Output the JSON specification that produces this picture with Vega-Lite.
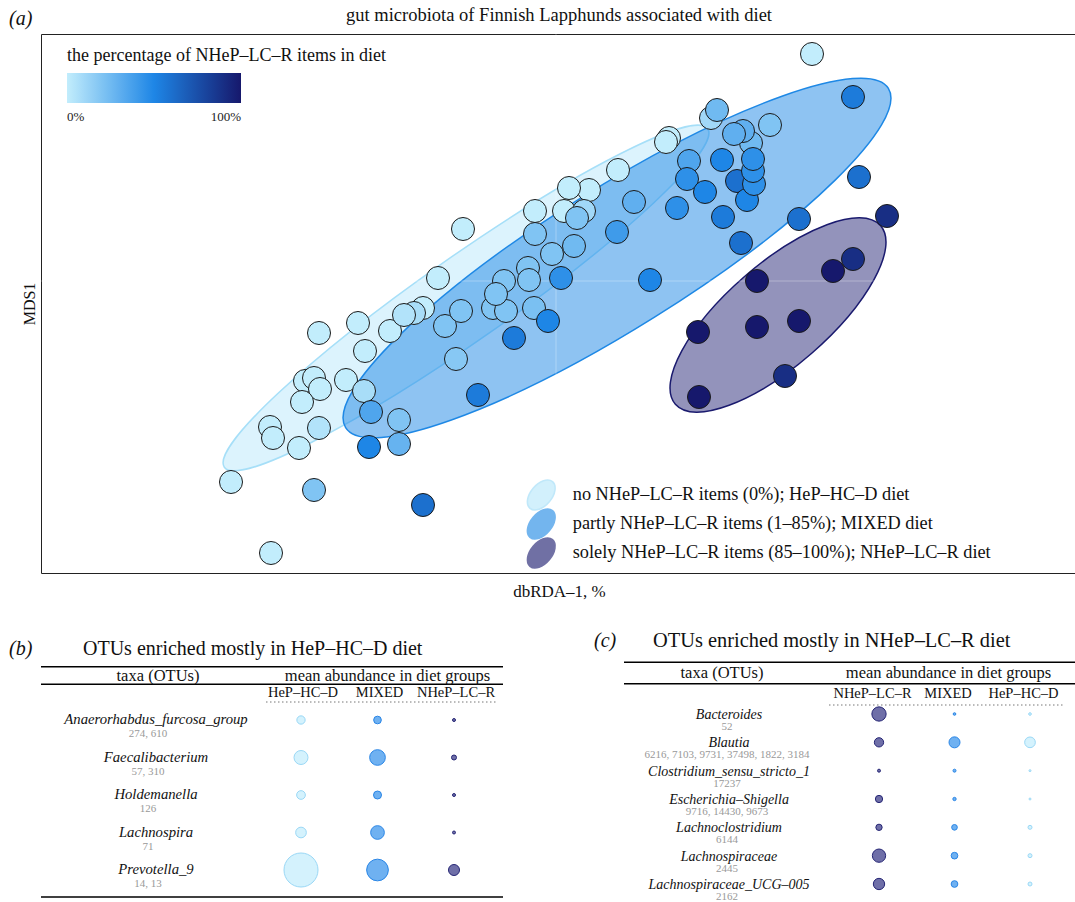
{
  "$schema": "https://vega.github.io/schema/vega-lite/v6.json",
  "padding": {"left": 8, "top": 5, "right": 0, "bottom": 0},
  "bounds": "flush",
  "spacing": 54,
  "config": {
    "font": "Liberation Serif",
    "view": {"stroke": null},
    "text": {"font": "Liberation Serif", "color": "#111"},
    "title": {"font": "Liberation Serif", "fontWeight": "normal", "color": "#111"},
    "legend": {"labelFont": "Liberation Serif", "titleFont": "Liberation Serif"}
  },
  "datasets": {
    "samples": [
      {"x":2.56,"y":2.27,"pct":0},{"x":-3.25,"y":-2.01,"pct":0},{"x":-2.85,"y":-2.72,"pct":0},{"x":-2.37,"y":-0.52,"pct":0},
      {"x":-1.98,"y":-0.42,"pct":0},{"x":-1.66,"y":-0.50,"pct":0},{"x":-1.91,"y":-0.70,"pct":0},{"x":-2.51,"y":-1.00,"pct":0},
      {"x":-2.42,"y":-0.97,"pct":0},{"x":-2.36,"y":-1.08,"pct":0},{"x":-2.54,"y":-1.21,"pct":0},{"x":-2.10,"y":-0.99,"pct":0},
      {"x":-2.86,"y":-1.46,"pct":0},{"x":-2.83,"y":-1.57,"pct":0},{"x":-2.37,"y":-1.47,"pct":5},{"x":-2.57,"y":-1.67,"pct":0},
      {"x":-0.93,"y":0.52,"pct":0},{"x":-1.18,"y":0.03,"pct":0},{"x":-0.21,"y":0.70,"pct":0},{"x":-1.33,"y":-0.27,"pct":0},
      {"x":-1.42,"y":-0.32,"pct":8},{"x":-1.52,"y":-0.34,"pct":5},{"x":0.62,"y":1.11,"pct":0},{"x":0.33,"y":0.91,"pct":0},
      {"x":0.13,"y":0.93,"pct":0},{"x":0.08,"y":0.70,"pct":0},{"x":0.28,"y":0.70,"pct":10},{"x":1.13,"y":1.43,"pct":0},
      {"x":1.10,"y":1.39,"pct":0},{"x":1.55,"y":1.63,"pct":10},{"x":-1.92,"y":-1.10,"pct":8},{"x":-2.42,"y":-2.09,"pct":20},
      {"x":-1.11,"y":-0.45,"pct":20},{"x":-0.95,"y":-0.30,"pct":20},{"x":-0.63,"y":-0.27,"pct":20},{"x":-0.50,"y":-0.30,"pct":20},
      {"x":-0.22,"y":-0.27,"pct":22},{"x":-1.00,"y":-0.78,"pct":18},{"x":-1.57,"y":-1.39,"pct":20},{"x":-1.57,"y":-1.63,"pct":28},
      {"x":-0.21,"y":0.47,"pct":20},{"x":-0.04,"y":0.27,"pct":20},{"x":-0.28,"y":0.13,"pct":20},{"x":-0.27,"y":0.01,"pct":20},
      {"x":-0.52,"y":0.00,"pct":20},{"x":-0.60,"y":-0.13,"pct":20},{"x":0.21,"y":0.63,"pct":20},{"x":0.18,"y":0.35,"pct":25},
      {"x":0.78,"y":0.79,"pct":30},{"x":2.14,"y":1.56,"pct":20},{"x":1.61,"y":1.71,"pct":25},{"x":1.95,"y":1.38,"pct":25},
      {"x":1.87,"y":1.50,"pct":30},{"x":1.78,"y":1.47,"pct":30},{"x":1.33,"y":1.20,"pct":35},{"x":-0.08,"y":-0.40,"pct":50},
      {"x":-0.42,"y":-0.57,"pct":55},{"x":-0.78,"y":-1.14,"pct":55},{"x":-1.85,"y":-1.31,"pct":35},{"x":-1.87,"y":-1.66,"pct":50},
      {"x":-1.33,"y":-2.24,"pct":60},{"x":0.05,"y":0.03,"pct":45},{"x":0.61,"y":0.49,"pct":40},{"x":0.94,"y":0.01,"pct":50},
      {"x":1.21,"y":0.73,"pct":45},{"x":1.31,"y":1.02,"pct":45},{"x":1.49,"y":0.89,"pct":50},{"x":1.66,"y":1.21,"pct":50},
      {"x":1.67,"y":0.64,"pct":55},{"x":1.81,"y":1.00,"pct":60},{"x":1.91,"y":0.81,"pct":50},{"x":1.98,"y":0.97,"pct":45},
      {"x":1.97,"y":1.10,"pct":45},{"x":1.97,"y":1.22,"pct":45},{"x":1.85,"y":0.38,"pct":60},{"x":2.43,"y":0.62,"pct":60},
      {"x":2.97,"y":1.84,"pct":55},{"x":3.03,"y":1.04,"pct":60},{"x":3.31,"y":0.65,"pct":90},{"x":2.97,"y":0.22,"pct":90},
      {"x":2.77,"y":0.10,"pct":100},{"x":2.01,"y":0.00,"pct":100},{"x":1.42,"y":-0.51,"pct":100},{"x":2.01,"y":-0.46,"pct":100},
      {"x":2.43,"y":-0.40,"pct":100},{"x":2.29,"y":-0.95,"pct":90},{"x":1.43,"y":-1.16,"pct":100}
    ],
    "ellipses": [
      {"group":"HeP–HC–D","diet":"no NHeP–LC–R items (0%); HeP–HC–D diet","x":-0.90,"y":-0.17},
      {"group":"MIXED","diet":"partly NHeP–LC–R items (1–85%); MIXED diet","x":0.61,"y":0.23},
      {"group":"NHeP–LC–R","diet":"solely NHeP–LC–R items (85–100%); NHeP–LC–R diet","x":2.22,"y":-0.34}
    ],
    "b_head": [
      {"pos":"head","col":"taxa","label":"taxa (OTUs)"},
      {"pos":"head","col":"MIXED","label":"mean abundance in diet groups"}
    ],
    "b_cols": [
      {"pos":"colhead","col":"HeP–HC–D"},{"pos":"colhead","col":"MIXED"},{"pos":"colhead","col":"NHeP–LC–R"}
    ],
    "b_rules": [{"pos":"rule1"},{"pos":"rule2"}],
    "b_taxa": [
      {"taxon":"Anaerorhabdus_furcosa_group","otus":"274, 610"},
      {"taxon":"Faecalibacterium","otus":"57, 310"},
      {"taxon":"Holdemanella","otus":"126"},
      {"taxon":"Lachnospira","otus":"71"},
      {"taxon":"Prevotella_9","otus":"14, 13"}
    ],
    "b_abund": [
      {"taxon":"Anaerorhabdus_furcosa_group","group":"HeP–HC–D","abundance":0.69},
      {"taxon":"Anaerorhabdus_furcosa_group","group":"MIXED","abundance":0.59},
      {"taxon":"Anaerorhabdus_furcosa_group","group":"NHeP–LC–R","abundance":0.09},
      {"taxon":"Faecalibacterium","group":"HeP–HC–D","abundance":1.96},
      {"taxon":"Faecalibacterium","group":"MIXED","abundance":2.46},
      {"taxon":"Faecalibacterium","group":"NHeP–LC–R","abundance":0.25},
      {"taxon":"Holdemanella","group":"HeP–HC–D","abundance":0.76},
      {"taxon":"Holdemanella","group":"MIXED","abundance":0.64},
      {"taxon":"Holdemanella","group":"NHeP–LC–R","abundance":0.09},
      {"taxon":"Lachnospira","group":"HeP–HC–D","abundance":1.14},
      {"taxon":"Lachnospira","group":"MIXED","abundance":1.88},
      {"taxon":"Lachnospira","group":"NHeP–LC–R","abundance":0.09},
      {"taxon":"Prevotella_9","group":"HeP–HC–D","abundance":11.56},
      {"taxon":"Prevotella_9","group":"MIXED","abundance":4.71},
      {"taxon":"Prevotella_9","group":"NHeP–LC–R","abundance":1.21}
    ],
    "c_taxa": [
      {"taxon":"Bacteroides","otus":"52"},
      {"taxon":"Blautia","otus":"6216, 7103, 9731, 37498, 1822, 3184"},
      {"taxon":"Clostridium_sensu_stricto_1","otus":"17237"},
      {"taxon":"Escherichia–Shigella","otus":"9716, 14430, 9673"},
      {"taxon":"Lachnoclostridium","otus":"6144"},
      {"taxon":"Lachnospiraceae","otus":"2445"},
      {"taxon":"Lachnospiraceae_UCG–005","otus":"2162"}
    ],
    "c_abund": [
      {"taxon":"Bacteroides","group":"NHeP–LC–R","abundance":2.04},
      {"taxon":"Bacteroides","group":"MIXED","abundance":0.07},
      {"taxon":"Bacteroides","group":"HeP–HC–D","abundance":0.07},
      {"taxon":"Blautia","group":"NHeP–LC–R","abundance":0.86},
      {"taxon":"Blautia","group":"MIXED","abundance":1.21},
      {"taxon":"Blautia","group":"HeP–HC–D","abundance":1.14},
      {"taxon":"Clostridium_sensu_stricto_1","group":"NHeP–LC–R","abundance":0.09},
      {"taxon":"Clostridium_sensu_stricto_1","group":"MIXED","abundance":0.09},
      {"taxon":"Clostridium_sensu_stricto_1","group":"HeP–HC–D","abundance":0.04},
      {"taxon":"Escherichia–Shigella","group":"NHeP–LC–R","abundance":0.53},
      {"taxon":"Escherichia–Shigella","group":"MIXED","abundance":0.11},
      {"taxon":"Escherichia–Shigella","group":"HeP–HC–D","abundance":0.04},
      {"taxon":"Lachnoclostridium","group":"NHeP–LC–R","abundance":0.40},
      {"taxon":"Lachnoclostridium","group":"MIXED","abundance":0.32},
      {"taxon":"Lachnoclostridium","group":"HeP–HC–D","abundance":0.16},
      {"taxon":"Lachnospiraceae","group":"NHeP–LC–R","abundance":1.77},
      {"taxon":"Lachnospiraceae","group":"MIXED","abundance":0.45},
      {"taxon":"Lachnospiraceae","group":"HeP–HC–D","abundance":0.16},
      {"taxon":"Lachnospiraceae_UCG–005","group":"NHeP–LC–R","abundance":1.28},
      {"taxon":"Lachnospiraceae_UCG–005","group":"MIXED","abundance":0.45},
      {"taxon":"Lachnospiraceae_UCG–005","group":"HeP–HC–D","abundance":0.16}
    ]
  },
  "resolve": {
    "scale": {"fill": "independent", "stroke": "independent", "size": "independent", "x": "independent", "y": "independent"},
    "legend": {"fill": "independent", "stroke": "independent", "size": "independent"}
  },
  "vconcat": [
    {
      "width": 1036,
      "height": 539,
      "view": {"stroke": "#222", "strokeWidth": 1},
      "title": {"text": "gut microbiota of Finnish Lapphunds associated with diet", "fontSize": 18.5, "anchor": "middle", "offset": -15},
      "resolve": {"scale": {"fill": "independent", "stroke": "independent"}, "legend": {"fill": "independent", "stroke": "independent"}},
      "layer": [
        {
          "data": {"name": "ellipses"},
          "encoding": {
            "x": {"field": "x", "type": "quantitative", "scale": {"domain": [-5.15, 5.21], "nice": false, "zero": false},
                  "axis": {"title": "dbRDA–1, %", "labels": false, "ticks": false, "domain": false, "grid": false, "titleFontSize": 17, "titleFontWeight": "normal", "titleFont": "Liberation Serif", "titleColor": "#111", "titlePadding": 10}},
            "y": {"field": "y", "type": "quantitative", "scale": {"domain": [-2.92, 2.47], "nice": false, "zero": false},
                  "axis": {"title": "MDS1", "labels": false, "ticks": false, "domain": false, "grid": false, "titleFontSize": 16, "titleFontWeight": "normal", "titleFont": "Liberation Serif", "titleColor": "#111", "titlePadding": 4}}
          },
          "resolve": {"scale": {"fill": "independent", "stroke": "independent"}, "legend": {"fill": "independent", "stroke": "independent"}},
          "layer": [
            {"transform": [{"filter": {"field": "group", "equal": "HeP–HC–D"}}],
             "mark": {"type": "point", "filled": true, "opacity": 1, "fillOpacity": 0.55, "strokeWidth": 1.5, "strokeOpacity": 1, "size": 348100, "angle": 325,
                      "shape": "M -1 0 C -1 -0.0786 -0.5523 -0.1424 0 -0.1424 C 0.5523 -0.1424 1 -0.0786 1 0 C 1 0.0786 0.5523 0.1424 0 0.1424 C -0.5523 0.1424 -1 0.0786 -1 0 Z"},
             "encoding": {
               "fill": {"field": "diet", "type": "nominal", "scale": {"domain": ["no NHeP–LC–R items (0%); HeP–HC–D diet"], "range": ["#bfeafb"]},
                        "legend": {"title": null, "orient": "none", "legendX": 481.75, "legendY": 442.5, "padding": 0,
                                   "symbolType": "M 0.643 -0.766 C 0.899 -0.551 0.818 -0.034 0.463 0.389 C 0.108 0.812 -0.387 0.981 -0.643 0.766 C -0.899 0.551 -0.818 0.034 -0.463 -0.389 C -0.108 -0.812 0.387 -0.981 0.643 -0.766 Z",
                                   "symbolSize": 1225, "symbolStrokeWidth": 1.5, "symbolOpacity": 0.7, "labelFontSize": 18.3, "labelColor": "#111", "labelOffset": 13, "labelLimit": 700}},
               "stroke": {"field": "diet", "type": "nominal", "scale": {"domain": ["no NHeP–LC–R items (0%); HeP–HC–D diet"], "range": ["#a6dff8"]},
                        "legend": {"title": null, "orient": "none", "legendX": 481.75, "legendY": 442.5, "padding": 0,
                                   "symbolType": "M 0.643 -0.766 C 0.899 -0.551 0.818 -0.034 0.463 0.389 C 0.108 0.812 -0.387 0.981 -0.643 0.766 C -0.899 0.551 -0.818 0.034 -0.463 -0.389 C -0.108 -0.812 0.387 -0.981 0.643 -0.766 Z",
                                   "symbolSize": 1225, "symbolStrokeWidth": 1.5, "symbolOpacity": 0.7, "labelFontSize": 18.3, "labelColor": "#111", "labelOffset": 13, "labelLimit": 700}}
             }},
            {"transform": [{"filter": {"field": "group", "equal": "MIXED"}}],
             "mark": {"type": "point", "filled": true, "opacity": 1, "fillOpacity": 0.5, "strokeWidth": 1.5, "strokeOpacity": 1, "size": 409600, "angle": 328,
                      "shape": "M -1 0 C -1 -0.121 -0.5523 -0.219 0 -0.219 C 0.5523 -0.219 1 -0.121 1 0 C 1 0.121 0.5523 0.219 0 0.219 C -0.5523 0.219 -1 0.121 -1 0 Z"},
             "encoding": {
               "fill": {"field": "diet", "type": "nominal", "scale": {"domain": ["partly NHeP–LC–R items (1–85%); MIXED diet"], "range": ["#1e88e5"]},
                        "legend": {"title": null, "orient": "none", "legendX": 481.75, "legendY": 471.5, "padding": 0,
                                   "symbolType": "M 0.643 -0.766 C 0.899 -0.551 0.818 -0.034 0.463 0.389 C 0.108 0.812 -0.387 0.981 -0.643 0.766 C -0.899 0.551 -0.818 0.034 -0.463 -0.389 C -0.108 -0.812 0.387 -0.981 0.643 -0.766 Z",
                                   "symbolSize": 1225, "symbolStrokeWidth": 1.5, "symbolOpacity": 0.62, "labelFontSize": 18.3, "labelColor": "#111", "labelOffset": 13, "labelLimit": 700}},
               "stroke": {"field": "diet", "type": "nominal", "scale": {"domain": ["partly NHeP–LC–R items (1–85%); MIXED diet"], "range": ["#1e88e5"]},
                        "legend": {"title": null, "orient": "none", "legendX": 481.75, "legendY": 471.5, "padding": 0,
                                   "symbolType": "M 0.643 -0.766 C 0.899 -0.551 0.818 -0.034 0.463 0.389 C 0.108 0.812 -0.387 0.981 -0.643 0.766 C -0.899 0.551 -0.818 0.034 -0.463 -0.389 C -0.108 -0.812 0.387 -0.981 0.643 -0.766 Z",
                                   "symbolSize": 1225, "symbolStrokeWidth": 1.5, "symbolOpacity": 0.62, "labelFontSize": 18.3, "labelColor": "#111", "labelOffset": 13, "labelLimit": 700}}
             }},
            {"transform": [{"filter": {"field": "group", "equal": "NHeP–LC–R"}}],
             "mark": {"type": "point", "filled": true, "opacity": 1, "fillOpacity": 0.47, "strokeWidth": 1.5, "strokeOpacity": 1, "size": 73984, "angle": 319,
                      "shape": "M -1 0 C -1 -0.2071 -0.5523 -0.375 0 -0.375 C 0.5523 -0.375 1 -0.2071 1 0 C 1 0.2071 0.5523 0.375 0 0.375 C -0.5523 0.375 -1 0.2071 -1 0 Z"},
             "encoding": {
               "fill": {"field": "diet", "type": "nominal", "scale": {"domain": ["solely NHeP–LC–R items (85–100%); NHeP–LC–R diet"], "range": ["#1a1a6e"]},
                        "legend": {"title": null, "orient": "none", "legendX": 481.75, "legendY": 500.5, "padding": 0,
                                   "symbolType": "M 0.643 -0.766 C 0.899 -0.551 0.818 -0.034 0.463 0.389 C 0.108 0.812 -0.387 0.981 -0.643 0.766 C -0.899 0.551 -0.818 0.034 -0.463 -0.389 C -0.108 -0.812 0.387 -0.981 0.643 -0.766 Z",
                                   "symbolSize": 1225, "symbolStrokeWidth": 1.5, "symbolOpacity": 0.62, "labelFontSize": 18.3, "labelColor": "#111", "labelOffset": 13, "labelLimit": 700}},
               "stroke": {"field": "diet", "type": "nominal", "scale": {"domain": ["solely NHeP–LC–R items (85–100%); NHeP–LC–R diet"], "range": ["#1a1a6e"]},
                        "legend": {"title": null, "orient": "none", "legendX": 481.75, "legendY": 500.5, "padding": 0,
                                   "symbolType": "M 0.643 -0.766 C 0.899 -0.551 0.818 -0.034 0.463 0.389 C 0.108 0.812 -0.387 0.981 -0.643 0.766 C -0.899 0.551 -0.818 0.034 -0.463 -0.389 C -0.108 -0.812 0.387 -0.981 0.643 -0.766 Z",
                                   "symbolSize": 1225, "symbolStrokeWidth": 1.5, "symbolOpacity": 0.62, "labelFontSize": 18.3, "labelColor": "#111", "labelOffset": 13, "labelLimit": 700}}
             }}
          ]
        },
        {
          "data": {"values": [{}]},
          "mark": {"type": "rule", "color": "#ffffff", "strokeOpacity": 0.3, "strokeWidth": 1},
          "encoding": {"x": {"datum": 0, "type": "quantitative", "scale": {"domain": [-5.15, 5.21], "nice": false, "zero": false}}}
        },
        {
          "data": {"values": [{}]},
          "mark": {"type": "rule", "color": "#ffffff", "strokeOpacity": 0.3, "strokeWidth": 1},
          "encoding": {"y": {"datum": 0, "type": "quantitative", "scale": {"domain": [-2.92, 2.47], "nice": false, "zero": false}}}
        },
        {
          "data": {"name": "samples"},
          "mark": {"type": "point", "shape": "circle", "filled": true, "opacity": 1, "size": 530, "stroke": "#1b1b1b", "strokeWidth": 1},
          "encoding": {
            "x": {"field": "x", "type": "quantitative", "scale": {"domain": [-5.15, 5.21], "nice": false, "zero": false}},
            "y": {"field": "y", "type": "quantitative", "scale": {"domain": [-2.92, 2.47], "nice": false, "zero": false}},
            "fill": {"field": "pct", "type": "quantitative",
                     "scale": {"domain": [0, 50, 100], "range": ["#c2edfc", "#1e86e6", "#16186c"], "interpolate": "rgb"},
                     "legend": {"title": "the percentage of NHeP–LC–R items in diet", "orient": "none", "legendX": 26, "legendY": 13, "direction": "horizontal",
                                "gradientLength": 174, "gradientThickness": 30, "gradientStrokeWidth": 0, "values": [0, 100], "labelExpr": "datum.value + '%'",
                                "titleFontSize": 18, "titleFontWeight": "normal", "titleColor": "#111", "titleLimit": 500, "titlePadding": 8,
                                "labelFontSize": 13, "labelColor": "#222", "labelOffset": 8, "padding": 0}}
          }
        },
        {
          "data": {"values": [{}]},
          "mark": {"type": "text", "text": "(a)", "fontSize": 20, "fontStyle": "italic", "align": "left", "baseline": "middle"},
          "encoding": {
            "x": {"datum": -5.47, "type": "quantitative", "scale": {"domain": [-5.15, 5.21], "nice": false, "zero": false}},
            "y": {"datum": 2.62, "type": "quantitative", "scale": {"domain": [-2.92, 2.47], "nice": false, "zero": false}}
          }
        }
      ]
    },
    {
      "bounds": "flush",
      "spacing": 121,
      "resolve": {
        "scale": {"fill": "independent", "stroke": "independent", "size": "independent", "x": "independent", "y": "independent"},
        "legend": {"fill": "independent", "stroke": "independent", "size": "independent"}
      },
      "hconcat": [
        {
          "width": 462,
          "height": 272,
          "view": {"stroke": null},
          "resolve": {"scale": {"y": "independent"}, "axis": {"y": "independent"}},
          "layer": [
            {
              "encoding": {
                "y": {"field": "pos", "type": "nominal", "axis": null,
                      "scale": {"type": "point", "domain": ["title", "_s", "rule1", "head", "rule2", "colhead", "dots"], "range": [22, 75], "padding": 0}}
              },
              "layer": [
                {"data": {"values": [{"pos": "title"}]},
                 "mark": {"type": "text", "text": "(b)", "fontSize": 20, "fontStyle": "italic", "align": "left", "baseline": "middle", "dx": -139},
                 "encoding": {"x": {"datum": "taxa", "type": "nominal", "axis": null, "scale": {"type": "point", "domain": ["taxa", "_g", "HeP–HC–D", "MIXED", "NHeP–LC–R"], "range": [107, 413], "padding": 0}}}},
                {"data": {"values": [{"pos": "title"}]},
                 "mark": {"type": "text", "text": "OTUs enriched mostly in HeP–HC–D diet", "fontSize": 20, "align": "left", "baseline": "middle", "dx": -65},
                 "encoding": {"x": {"datum": "taxa", "type": "nominal", "axis": null, "scale": {"type": "point", "domain": ["taxa", "_g", "HeP–HC–D", "MIXED", "NHeP–LC–R"], "range": [107, 413], "padding": 0}}}},
                {"data": {"name": "b_rules"},
                 "mark": {"type": "rule", "color": "#000", "strokeWidth": 1.5}},
                {"data": {"name": "b_head"},
                 "mark": {"type": "text", "fontSize": 16.5, "align": "center", "baseline": "middle", "dx": 10},
                 "encoding": {"x": {"field": "col", "type": "nominal", "axis": null, "scale": {"type": "point", "domain": ["taxa", "_g", "HeP–HC–D", "MIXED", "NHeP–LC–R"], "range": [107, 413], "padding": 0}},
                              "text": {"field": "label"}}},
                {"data": {"name": "b_cols"},
                 "mark": {"type": "text", "fontSize": 14.5, "align": "center", "baseline": "middle", "dx": 2},
                 "encoding": {"x": {"field": "col", "type": "nominal", "axis": null, "scale": {"type": "point", "domain": ["taxa", "_g", "HeP–HC–D", "MIXED", "NHeP–LC–R"], "range": [107, 413], "padding": 0}},
                              "text": {"field": "col"}}},
                {"data": {"values": [{"pos": "dots", "from": "HeP–HC–D", "to": "NHeP–LC–R"}]},
                 "mark": {"type": "rule", "color": "#777", "strokeWidth": 1, "strokeDash": [1.5, 2.5], "xOffset": -35, "x2Offset": 44},
                 "encoding": {"x": {"field": "from", "type": "nominal", "axis": null, "scale": {"type": "point", "domain": ["taxa", "_g", "HeP–HC–D", "MIXED", "NHeP–LC–R"], "range": [107, 413], "padding": 0}},
                              "x2": {"field": "to"}}}
              ]
            },
            {
              "encoding": {
                "y": {"field": "taxon", "type": "nominal", "axis": null,
                      "scale": {"type": "point", "domain": ["Anaerorhabdus_furcosa_group", "Faecalibacterium", "Holdemanella", "Lachnospira", "Prevotella_9"], "range": [93, 243], "padding": 0}}
              },
              "layer": [
                {"data": {"name": "b_taxa"},
                 "mark": {"type": "text", "fontSize": 14.7, "fontStyle": "italic", "align": "center", "baseline": "middle", "dx": 8},
                 "encoding": {"x": {"datum": "taxa", "type": "nominal", "axis": null, "scale": {"type": "point", "domain": ["taxa", "_g", "HeP–HC–D", "MIXED", "NHeP–LC–R"], "range": [107, 413], "padding": 0}},
                              "text": {"field": "taxon"}}},
                {"data": {"name": "b_taxa"},
                 "mark": {"type": "text", "fontSize": 11, "align": "center", "baseline": "middle", "dy": 14, "color": "#999"},
                 "encoding": {"x": {"datum": "taxa", "type": "nominal", "axis": null, "scale": {"type": "point", "domain": ["taxa", "_g", "HeP–HC–D", "MIXED", "NHeP–LC–R"], "range": [107, 413], "padding": 0}},
                              "text": {"field": "otus"}}},
                {"data": {"name": "b_abund"},
                 "mark": {"type": "point", "shape": "circle", "filled": true, "opacity": 1, "strokeWidth": 1},
                 "encoding": {
                   "x": {"field": "group", "type": "nominal", "axis": null, "scale": {"type": "point", "domain": ["taxa", "_g", "HeP–HC–D", "MIXED", "NHeP–LC–R"], "range": [107, 413], "padding": 0}},
                   "size": {"field": "abundance", "type": "quantitative", "legend": null, "scale": {"domain": [0, 12], "range": [0, 1200], "zero": true}},
                   "fill": {"field": "group", "type": "nominal", "legend": null, "scale": {"domain": ["HeP–HC–D", "MIXED", "NHeP–LC–R"], "range": ["#d4f2fd", "#6fb1f1", "#6f6fa8"]}},
                   "stroke": {"field": "group", "type": "nominal", "legend": null, "scale": {"domain": ["HeP–HC–D", "MIXED", "NHeP–LC–R"], "range": ["#9ad8f6", "#2a86e6", "#262675"]}}
                 }}
              ]
            },
            {
              "data": {"values": [{"pos": "bottom"}]},
              "mark": {"type": "rule", "color": "#000", "strokeWidth": 1.5},
              "encoding": {"y": {"field": "pos", "type": "nominal", "axis": null, "scale": {"type": "point", "domain": ["bottom"], "range": [270, 270], "padding": 0}}}
            }
          ]
        },
        {
          "width": 455,
          "height": 272,
          "view": {"stroke": null},
          "resolve": {"scale": {"y": "independent"}, "axis": {"y": "independent"}},
          "layer": [
            {
              "encoding": {
                "y": {"field": "pos", "type": "nominal", "axis": null,
                      "scale": {"type": "point", "domain": ["title", "_s", "rule1", "head", "rule2", "colhead", "dots"], "range": [14, 78], "padding": 0}}
              },
              "layer": [
                {"data": {"values": [{"pos": "title"}]},
                 "mark": {"type": "text", "text": "(c)", "fontSize": 20, "fontStyle": "italic", "align": "left", "baseline": "middle", "dx": -134},
                 "encoding": {"x": {"datum": "taxa", "type": "nominal", "axis": null, "scale": {"type": "point", "domain": ["taxa", "_g", "NHeP–LC–R", "MIXED", "HeP–HC–D"], "range": [104, 406], "padding": 0}}}},
                {"data": {"values": [{"pos": "title"}]},
                 "mark": {"type": "text", "text": "OTUs enriched mostly in NHeP–LC–R diet", "fontSize": 20.4, "align": "left", "baseline": "middle", "dx": -75},
                 "encoding": {"x": {"datum": "taxa", "type": "nominal", "axis": null, "scale": {"type": "point", "domain": ["taxa", "_g", "NHeP–LC–R", "MIXED", "HeP–HC–D"], "range": [104, 406], "padding": 0}}}},
                {"data": {"values": [{"pos": "rule1"}, {"pos": "rule2"}]},
                 "mark": {"type": "rule", "color": "#000", "strokeWidth": 1.5}},
                {"data": {"values": [{"pos": "head", "col": "taxa", "label": "taxa (OTUs)"}, {"pos": "head", "col": "MIXED", "label": "mean abundance in diet groups"}]},
                 "mark": {"type": "text", "fontSize": 16.5, "align": "center", "baseline": "middle", "dx": -6},
                 "encoding": {"x": {"field": "col", "type": "nominal", "axis": null, "scale": {"type": "point", "domain": ["taxa", "_g", "NHeP–LC–R", "MIXED", "HeP–HC–D"], "range": [104, 406], "padding": 0}},
                              "text": {"field": "label"}}},
                {"data": {"values": [{"pos": "colhead", "col": "NHeP–LC–R"}, {"pos": "colhead", "col": "MIXED"}, {"pos": "colhead", "col": "HeP–HC–D"}]},
                 "mark": {"type": "text", "fontSize": 14.5, "align": "center", "baseline": "middle", "dx": -6.5},
                 "encoding": {"x": {"field": "col", "type": "nominal", "axis": null, "scale": {"type": "point", "domain": ["taxa", "_g", "NHeP–LC–R", "MIXED", "HeP–HC–D"], "range": [104, 406], "padding": 0}},
                              "text": {"field": "col"}}},
                {"data": {"values": [{"pos": "dots", "from": "NHeP–LC–R", "to": "HeP–HC–D"}]},
                 "mark": {"type": "rule", "color": "#777", "strokeWidth": 1, "strokeDash": [1.5, 2.5], "xOffset": -50, "x2Offset": 34},
                 "encoding": {"x": {"field": "from", "type": "nominal", "axis": null, "scale": {"type": "point", "domain": ["taxa", "_g", "NHeP–LC–R", "MIXED", "HeP–HC–D"], "range": [104, 406], "padding": 0}},
                              "x2": {"field": "to"}}}
              ]
            },
            {
              "encoding": {
                "y": {"field": "taxon", "type": "nominal", "axis": null,
                      "scale": {"type": "point", "domain": ["Bacteroides", "Blautia", "Clostridium_sensu_stricto_1", "Escherichia–Shigella", "Lachnoclostridium", "Lachnospiraceae", "Lachnospiraceae_UCG–005"], "range": [87, 257], "padding": 0}}
              },
              "layer": [
                {"data": {"name": "c_taxa"},
                 "mark": {"type": "text", "fontSize": 14, "fontStyle": "italic", "align": "center", "baseline": "middle", "dx": 1, "dy": 1},
                 "encoding": {"x": {"datum": "taxa", "type": "nominal", "axis": null, "scale": {"type": "point", "domain": ["taxa", "_g", "NHeP–LC–R", "MIXED", "HeP–HC–D"], "range": [104, 406], "padding": 0}},
                              "text": {"field": "taxon"}}},
                {"data": {"name": "c_taxa"},
                 "mark": {"type": "text", "fontSize": 11, "align": "center", "baseline": "middle", "dx": -1, "dy": 13, "color": "#999"},
                 "encoding": {"x": {"datum": "taxa", "type": "nominal", "axis": null, "scale": {"type": "point", "domain": ["taxa", "_g", "NHeP–LC–R", "MIXED", "HeP–HC–D"], "range": [104, 406], "padding": 0}},
                              "text": {"field": "otus"}}},
                {"data": {"name": "c_abund"},
                 "mark": {"type": "point", "shape": "circle", "filled": true, "opacity": 1, "strokeWidth": 1},
                 "encoding": {
                   "x": {"field": "group", "type": "nominal", "axis": null, "scale": {"type": "point", "domain": ["taxa", "_g", "NHeP–LC–R", "MIXED", "HeP–HC–D"], "range": [104, 406], "padding": 0}},
                   "size": {"field": "abundance", "type": "quantitative", "legend": null, "scale": {"domain": [0, 12], "range": [0, 1200], "zero": true}},
                   "fill": {"field": "group", "type": "nominal", "legend": null, "scale": {"domain": ["HeP–HC–D", "MIXED", "NHeP–LC–R"], "range": ["#d4f2fd", "#6fb1f1", "#6f6fa8"]}},
                   "stroke": {"field": "group", "type": "nominal", "legend": null, "scale": {"domain": ["HeP–HC–D", "MIXED", "NHeP–LC–R"], "range": ["#9ad8f6", "#2a86e6", "#262675"]}}
                 }}
              ]
            }
          ]
        }
      ]
    }
  ]
}
